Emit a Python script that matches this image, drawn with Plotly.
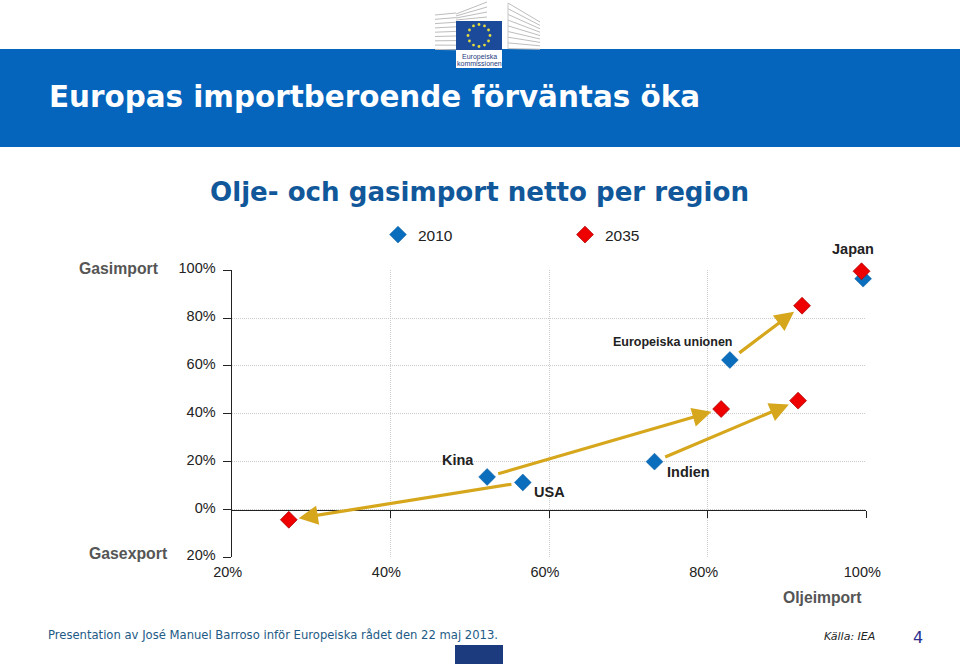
import math
import plotly.graph_objects as go

regions = ["Kina", "USA", "Indien", "Europeiska unionen", "Japan"]
oil_2010 = [52.2, 56.7, 73.3, 82.8, 99.6]
gas_2010 = [13.6, 11.3, 20.0, 62.5, 96.5]
oil_2035 = [81.7, 27.2, 91.4, 91.9, 99.4]
gas_2035 = [42.0, -4.3, 45.5, 85.2, 99.6]
x_ticks = [20, 40, 60, 80, 100]
x_labels = ["20%", "40%", "60%", "80%", "100%"]
y_ticks = [-20, 0, 20, 40, 60, 80, 100]
y_labels = ["20%", "0%", "20%", "40%", "60%", "80%", "100%"]
arrow_regions = ["Kina", "USA", "Indien", "Europeiska unionen"]
star_angles = list(range(0, 360, 30))

W, H = 960, 664
BLUE, RED, GOLD = "#0a6ebd", "#ee0000", "#d6a71c"
SANS = "Liberation Sans, Arial, sans-serif"
WIDE = "DejaVu Sans, Verdana, sans-serif"

def px(v):
    return v / W

def py(v):
    return 1 - v / H

fig = go.Figure()
fig.add_trace(go.Scatter(x=oil_2010, y=gas_2010, mode="markers", name="2010", hoverinfo="skip", cliponaxis=False,
                         marker=dict(symbol="diamond", size=13, color=BLUE, line=dict(width=0.5, color="#0a5ca0"))))
fig.add_trace(go.Scatter(x=oil_2035, y=gas_2035, mode="markers", name="2035", hoverinfo="skip", cliponaxis=False,
                         marker=dict(symbol="diamond", size=13, color=RED, line=dict(width=0.7, color="#a80000"))))
fig.add_trace(go.Scatter(x=[None], y=[None], xaxis="x2", showlegend=False, hoverinfo="skip"))

grid = dict(showgrid=True, gridcolor="#cccccc", griddash="1px,1px", gridwidth=1)
fig.update_layout(
    width=W, height=H, margin=dict(l=0, r=0, t=0, b=0, autoexpand=False), autosize=False,
    paper_bgcolor="white", plot_bgcolor="white", font=dict(family=SANS, color="#222222", size=14),
    xaxis=dict(domain=[px(231.7), px(866.3)], range=[20, 100], anchor="free", position=py(509.7),
               tickvals=x_ticks, showticklabels=False, ticks="outside", ticklen=7, tickcolor="#222222",
               showline=True, linecolor="#222222", linewidth=1.3, zeroline=False, **grid),
    xaxis2=dict(domain=[px(231.7), px(866.3)], range=[20, 100], anchor="y", overlaying="x", side="bottom",
                tickvals=x_ticks, ticktext=x_labels, showgrid=False, zeroline=False, showline=False,
                ticks="", ticklabelstandoff=4, ticklabelshift=-4, tickfont=dict(size=14.5, color="#222222")),
    yaxis=dict(domain=[py(557.3), py(270.3)], range=[-20, 100], tickvals=y_ticks, ticktext=y_labels,
               ticks="outside", ticklen=8, tickcolor="#222222", showline=True, linecolor="#222222", linewidth=1.3,
               zeroline=False, ticklabelstandoff=4, ticklabelshift=-2, tickfont=dict(size=14.5, color="#222222"), **grid),
    legend=dict(orientation="h", x=px(378), y=py(235), xanchor="left", yanchor="middle",
                entrywidth=142, entrywidthmode="pixels", itemwidth=30, font=dict(size=15.5, color="#222222"),
                bgcolor="rgba(0,0,0,0)", itemclick=False, itemdoubleclick=False),
)

shapes = []
def rect(x0, y0, x1, y1, color):
    shapes.append(dict(type="rect", xref="paper", yref="paper", x0=px(x0), x1=px(x1), y0=py(y0), y1=py(y1),
                       fillcolor=color, line=dict(width=0), layer="below"))

def line(x0, y0, x1, y1, color="#bdbdbd", width=1):
    shapes.append(dict(type="line", xref="paper", yref="paper", x0=px(x0), x1=px(x1), y0=py(y0), y1=py(y1),
                       line=dict(color=color, width=width), layer="below"))

rect(0, 49, 960, 147, "#0565bd")
rect(455, 645, 503, 664, "#1c3b7e")
# logo: stylised building, flag and name plate
for i in range(9):
    line(435, 15 + i * 4.3, 456, 13 + i * 4.6)
    line(508, 3 + i * 5.7, 540, 22 + i * 3.4)
for i in range(4):
    line(456, 14 + i * 2, 487, 2 + i * 5)
line(508, 3, 508, 49, "#c8c8c8", 1)
rect(456, 21, 502, 50, "#1c4a9a")
rect(456, 50, 502, 68, "white")
for a in star_angles:
    cx = 479 + 11 * math.sin(math.radians(a))
    cy = 35.5 - 11 * math.cos(math.radians(a))
    shapes.append(dict(type="circle", xref="paper", yref="paper", x0=px(cx - 1.4), x1=px(cx + 1.4),
                       y0=py(cy + 1.4), y1=py(cy - 1.4), fillcolor="#e6dc3c", line=dict(width=0)))
fig.update_layout(shapes=shapes)

def text(x, y, s, size, color="#222222", bold=False, anchor="center", family=SANS, italic=False):
    t = f"<b>{s}</b>" if bold else s
    t = f"<i>{t}</i>" if italic else t
    fig.add_annotation(xref="paper", yref="paper", x=px(x), y=py(y), text=t, showarrow=False, xanchor=anchor,
                       yanchor="middle", font=dict(size=size, color=color, family=family), borderpad=0)

text(48, 97, "Europas importberoende förväntas öka", 29.4, "white", True, "left", WIDE)
text(479.5, 192, "Olje- och gasimport netto per region", 26.1, "#11589b", True, "center", WIDE)
text(160, 268, "Gasimport", 15.8, "#555555", True, "right")
text(169, 553, "Gasexport", 15.8, "#555555", True, "right")
text(822, 597, "Oljeimport", 15.7, "#555555", True)
text(853, 249, regions[4], 14.5, "#222222", True)
text(672, 342, regions[3], 12.5, "#222222", True)
text(458, 460, regions[0], 14.5, "#222222", True)
text(549, 492, regions[1], 14.5, "#222222", True)
text(688, 472, regions[2], 14.5, "#222222", True)
text(47, 635, "Presentation av José Manuel Barroso inför Europeiska rådet den 22 maj 2013.", 11.6, "#1d5a86", False, "left", WIDE)
text(849, 636, "Källa: IEA", 11, "#222222", False, "center", WIDE, True)
text(918, 637, "4", 16, "#2b2f8f", False, "center", WIDE)
text(479, 57, "Europeiska", 7, "#1c3b7e", False)
text(479, 63.5, "kommissionen", 7, "#1c3b7e", False)

for r in arrow_regions:
    i = regions.index(r)
    fig.add_annotation(x=oil_2035[i], y=gas_2035[i], ax=oil_2010[i], ay=gas_2010[i], xref="x", yref="y",
                       axref="x", ayref="y", text="", showarrow=True, arrowhead=2, arrowsize=1.2,
                       arrowwidth=3.2, arrowcolor=GOLD, standoff=10, startstandoff=10)

fig.write_html("out.html", config={"displayModeBar": False},
               post_script="document.body.style.margin='0';document.body.style.overflow='hidden';")
